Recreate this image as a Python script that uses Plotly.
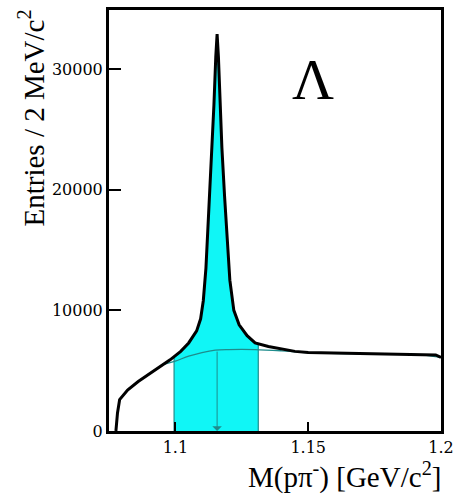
import numpy as np
import plotly.graph_objects as go

# ---- data ----
mass_gev = [1.0776, 1.0782, 1.0790, 1.0800, 1.0820, 1.0860, 1.0900, 1.0940, 1.0980,
            1.1020, 1.1050, 1.1080, 1.1095, 1.1105, 1.1115, 1.1125, 1.1135, 1.1145,
            1.1152, 1.1157, 1.1162, 1.1168, 1.1175, 1.1185, 1.1195, 1.1205, 1.1220,
            1.1240, 1.1270, 1.1300, 1.1350, 1.1400, 1.1450, 1.1500, 1.1600, 1.1700,
            1.1800, 1.1900, 1.1980, 1.2000]
entries_total = [0, 1500, 2600, 2900, 3400, 4100, 4700, 5300, 5900,
                 6600, 7300, 8300, 9300, 10800, 13500, 18000, 22000, 27000,
                 31000, 32900, 31000, 27000, 23500, 19500, 15500, 12500, 10000,
                 8800, 7900, 7300, 7000, 6800, 6600, 6500, 6450, 6400,
                 6400, 6350, 6300, 6100]

bkg_mass = [1.0960, 1.1000, 1.1050, 1.1100, 1.1150, 1.1200, 1.1300, 1.1400, 1.1500, 1.1700, 1.1900, 1.2000]
entries_bkg = [5550, 5800, 6200, 6500, 6700, 6750, 6750, 6650, 6500, 6400, 6350, 6100]

window_lo = 1.0995
window_hi = 1.1312
lambda_mass = 1.1157

x_ticks = [1.1, 1.15, 1.2]
x_tick_labels = ["1.1", "1.15", "1.2"]
y_ticks = [0, 10000, 20000, 30000]
y_tick_labels = ["0", "10000", "20000", "30000"]

CYAN = "#10F6F6"
TEAL = "#1E8C8C"
serif = "Liberation Serif"

m = np.array(mass_gev)
e = np.array(entries_total)
inside = (m > window_lo) & (m < window_hi)
fill_x = np.concatenate([[window_lo], m[inside], [window_hi]])
fill_y = np.concatenate([[np.interp(window_lo, m, e)], e[inside], [np.interp(window_hi, m, e)]])
bkg_at_peak = np.interp(lambda_mass, bkg_mass, entries_bkg)

W, H = 461, 502
L, R, T, B = 109, 16, 7, 71
pw, ph = W - L - R, H - T - B

fig = go.Figure()
fig.add_trace(go.Scatter(x=fill_x, y=fill_y, mode="lines", fill="tozeroy",
                         fillcolor=CYAN, line=dict(color=CYAN, width=0), hoverinfo="skip"))
fig.add_trace(go.Scatter(x=[window_lo, window_lo, None, window_hi, window_hi],
                         y=[0, fill_y[0], None, 0, fill_y[-1]],
                         mode="lines", line=dict(color=TEAL, width=1.2), hoverinfo="skip"))
fig.add_trace(go.Scatter(x=bkg_mass, y=entries_bkg, mode="lines",
                         line=dict(color=TEAL, width=1.3, shape="spline"), hoverinfo="skip"))
fig.add_trace(go.Scatter(x=mass_gev, y=entries_total, mode="lines",
                         line=dict(color="black", width=3), hoverinfo="skip"))

fig.add_annotation(x=lambda_mass, y=0, ax=lambda_mass, ay=bkg_at_peak, xref="x", yref="y",
                   axref="x", ayref="y", showarrow=True, arrowhead=1, arrowsize=1.6,
                   arrowwidth=1, arrowcolor=TEAL, text="")

fig.add_annotation(x=(315 - L) / pw, y=1 - (87 - T) / ph, xref="paper", yref="paper",
                   xanchor="center", yanchor="middle", yshift=10,
                   text="Λ", showarrow=False,
                   font=dict(family=serif, size=58, color="black"))

fig.add_annotation(x=1.0, y=0, xref="paper", yref="paper", xanchor="right", yanchor="top",
                   yshift=-24, xshift=2, text="M(pπ<sup>-</sup>) [GeV/c<sup>2</sup>]", showarrow=False,
                   font=dict(family=serif, size=29, color="black"))
fig.add_annotation(x=0, y=1, xref="paper", yref="paper", xanchor="right", yanchor="top",
                   xshift=-58, yshift=2, textangle=-90,
                   text="Entries / 2 MeV/c<sup>2</sup>", showarrow=False,
                   font=dict(family=serif, size=29, color="black"))

fig.update_layout(
    width=W, height=H, margin=dict(l=L, r=R, t=T, b=B),
    paper_bgcolor="white", plot_bgcolor="white", showlegend=False,
    font=dict(family="DejaVu Serif", size=16, color="black"),
)
fig.update_xaxes(range=[1.075, 1.2], tickvals=x_ticks, ticktext=x_tick_labels,
                 ticks="inside", ticklen=9, tickwidth=2, tickcolor="black",
                 showline=True, linewidth=3, linecolor="black", mirror=True,
                 showgrid=False, zeroline=False,
                 tickfont=dict(family="DejaVu Serif", size=16))
fig.update_yaxes(range=[0, 34900], tickvals=y_ticks, ticktext=y_tick_labels,
                 ticks="inside", ticklen=12, tickwidth=2, tickcolor="black",
                 showline=True, linewidth=3, linecolor="black", mirror=True,
                 showgrid=False, zeroline=False,
                 tickfont=dict(family="DejaVu Serif", size=16))

fig.write_html("out.html")
